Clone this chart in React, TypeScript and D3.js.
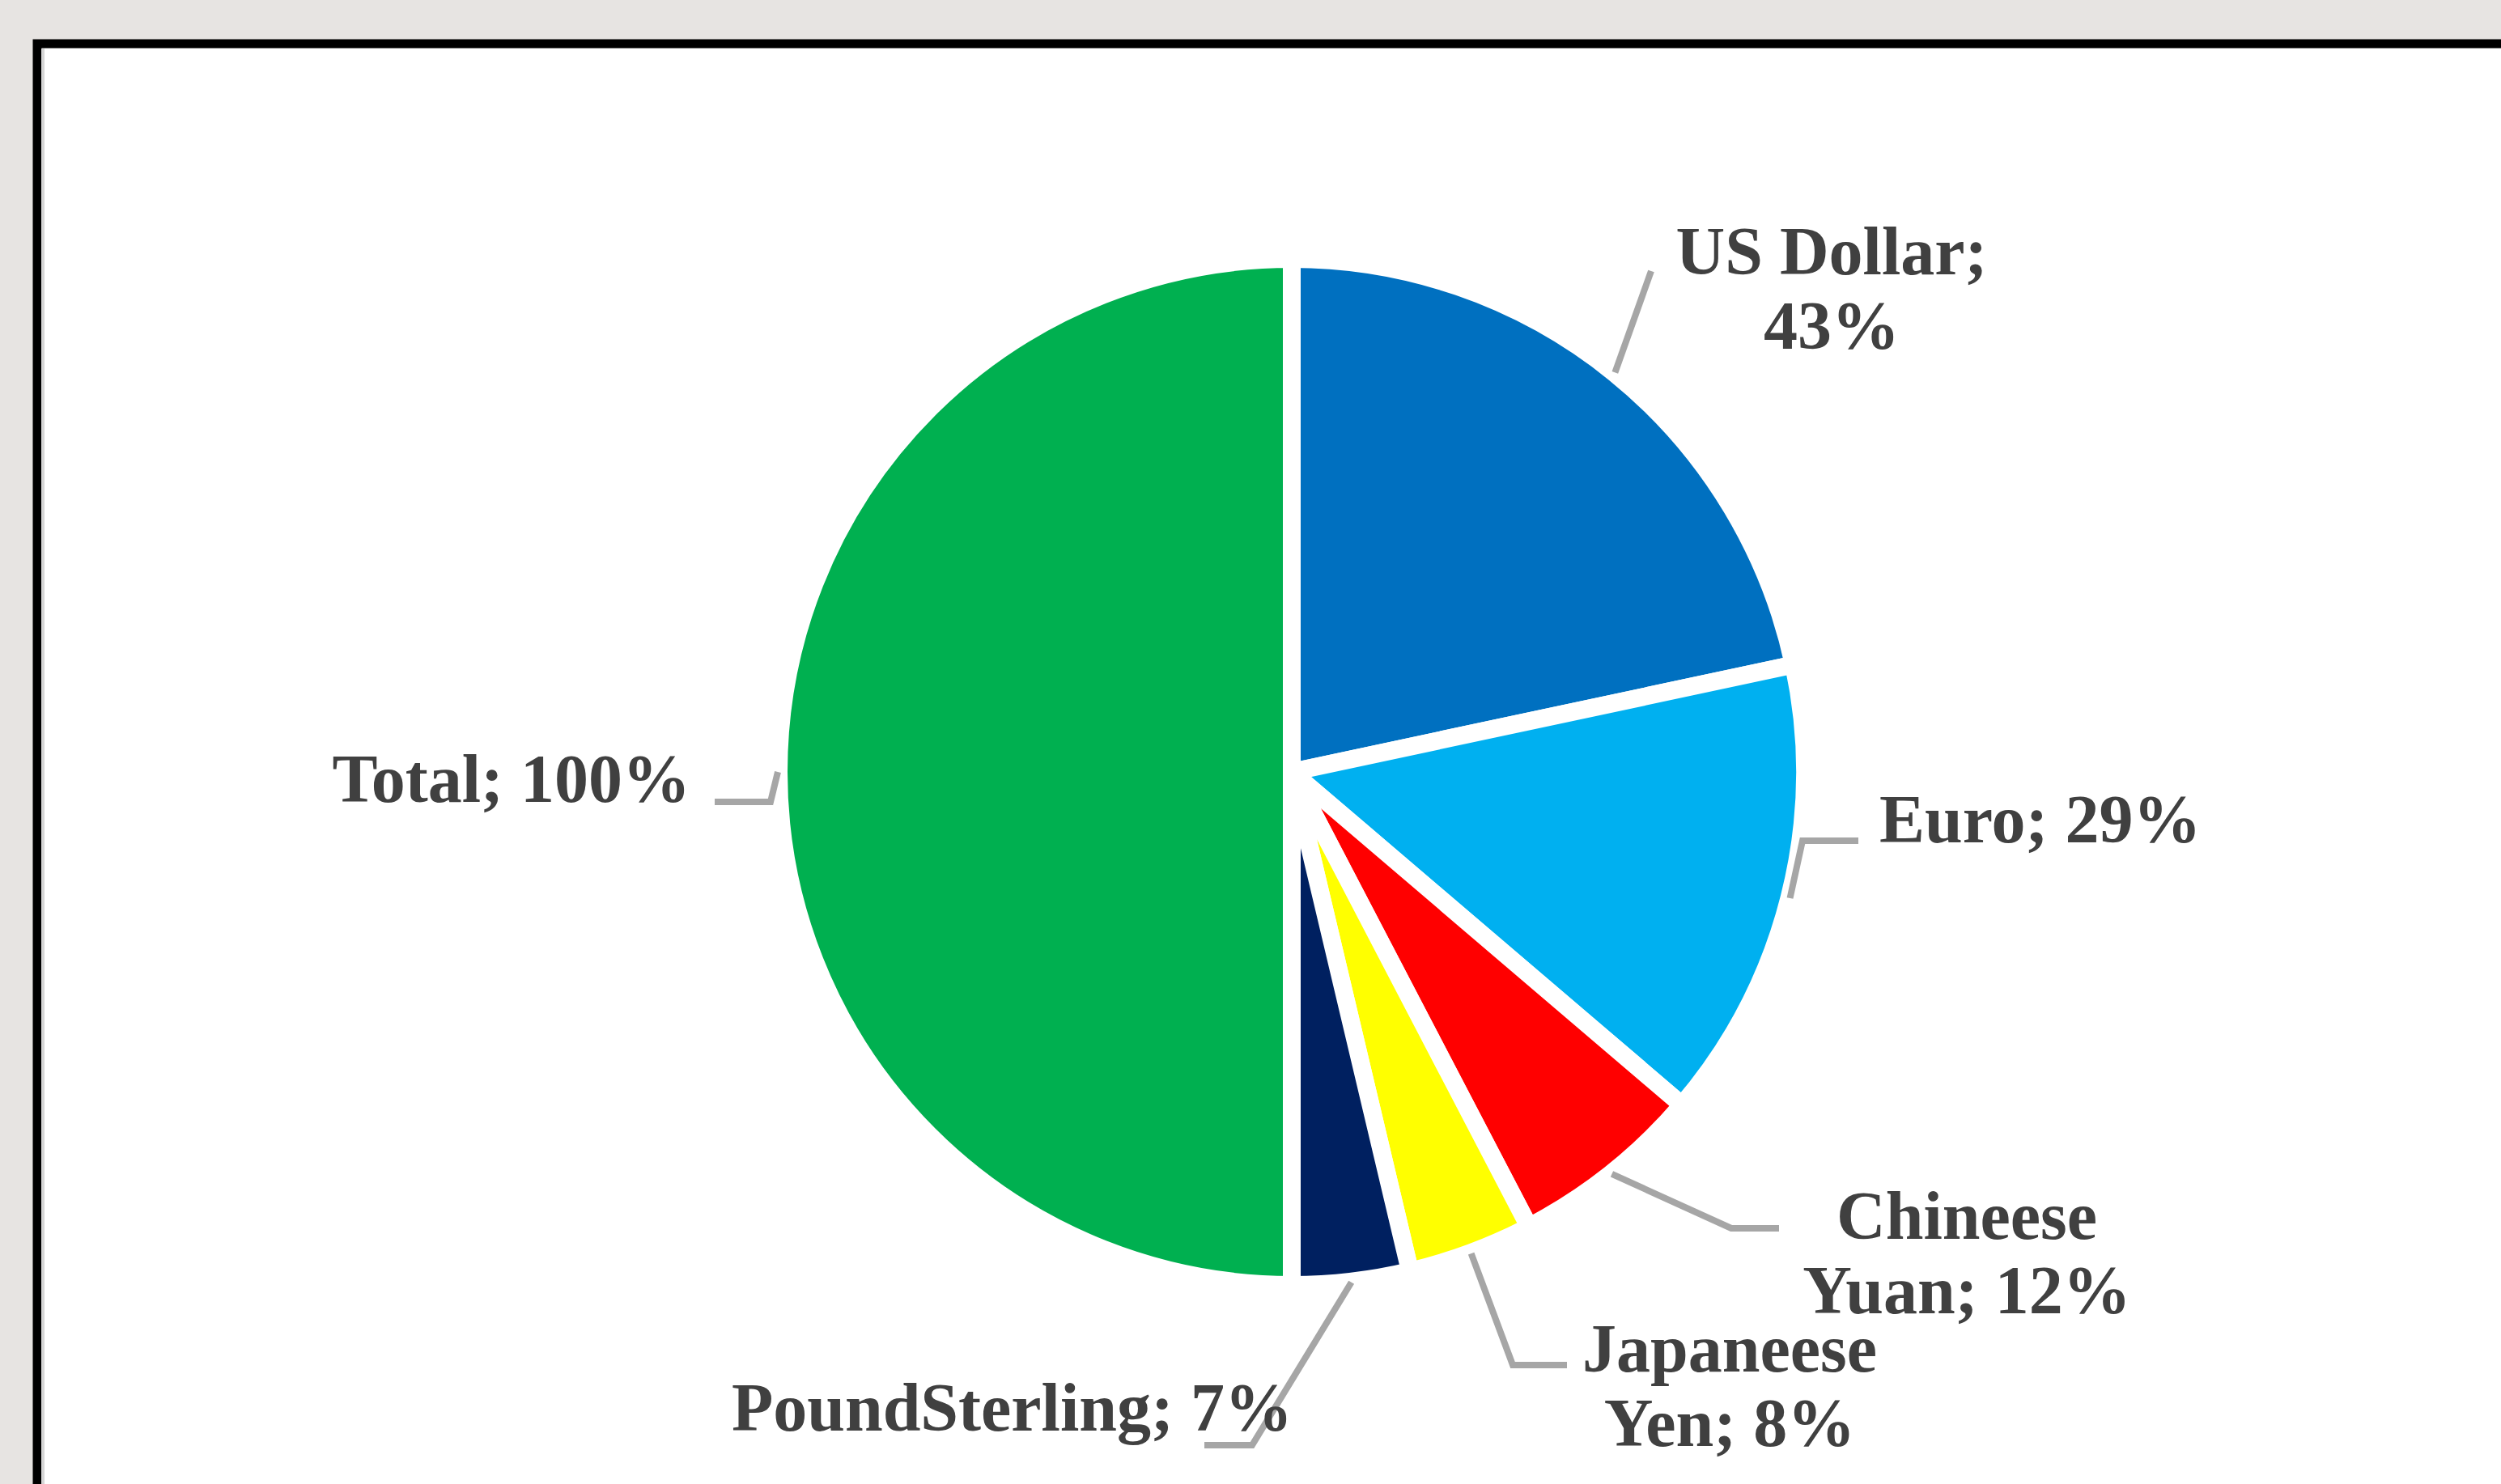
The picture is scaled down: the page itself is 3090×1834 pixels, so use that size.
import React, { useEffect, useRef } from "react";
import * as d3 from "d3";

// currency shares (labels show the rounded values); Total is the other half of the pie
const categories = ["US Dollar", "Euro", "Chineese Yuan", "Japaneese Yen", "PoundSterling", "Total"];
const values = [43.3, 29.2, 12.2, 7.9, 7.4, 100];
const labelLines = [
  ["US Dollar;", "43%"],
  ["Euro; 29%"],
  ["Chineese", "Yuan; 12%"],
  ["Japaneese", "Yen; 8%"],
  ["PoundSterling; 7%"],
  ["Total; 100%"],
];
const colors = ["#0070C0", "#00B0F0", "#FF0000", "#FFFF00", "#002060", "#00B050"];

// label placement (offsets from pie centre): elbow, end of leader, text anchor
const labelLayout = [
  { elbow: null, end: [444, -619], tx: 667, ty: -615, anchor: "middle" },
  { elbow: [631, 85], end: [700, 85], tx: 726, ty: 87, anchor: "start" },
  { elbow: [543, 564], end: [602, 564], tx: 834, ty: 577, anchor: "middle" },
  { elbow: [273, 733], end: [340, 733], tx: 541, ty: 741, anchor: "middle" },
  { elbow: [-49, 832], end: [-108, 832], tx: 1, ty: 814, anchor: "end" },
  { elbow: [-644, 37], end: [-713, 37], tx: -743, ty: 37, anchor: "end" },
];

const W = 3090;
const H = 1834;

const App: React.FC = () => {
  const ref = useRef<SVGSVGElement>(null);

  useEffect(() => {
    const svg = d3.select(ref.current);
    svg.selectAll("*").remove();

    svg.append("rect").attr("width", W).attr("height", H).attr("fill", "#e7e4e2");
    svg.append("rect")
      .attr("x", 46).attr("y", 54)
      .attr("width", W).attr("height", H)
      .attr("fill", "#ffffff")
      .attr("stroke", "#000")
      .attr("stroke-width", 11);
    svg.append("line")
      .attr("x1", 53).attr("x2", 53).attr("y1", 60).attr("y2", H)
      .attr("stroke", "#d6d6d6").attr("stroke-width", 4);

    const cx = 1596;
    const cy = 954;
    const radius = 634;

    const g = svg.append("g").attr("transform", `translate(${cx},${cy})`);

    const pie = d3.pie<number>().sort(null).value((d) => d);
    const arcs = pie(values);

    const arc = d3.arc<d3.PieArcDatum<number>>().innerRadius(0).outerRadius(radius);
    const edge = d3.arc<d3.PieArcDatum<number>>().innerRadius(radius + 1).outerRadius(radius + 1);

    g.selectAll("path.slice")
      .data(arcs)
      .enter()
      .append("path")
      .attr("class", "slice")
      .attr("d", (d) => arc(d) || "")
      .attr("fill", (d, i) => colors[i])
      .attr("stroke", "#fff")
      .attr("stroke-width", 22)
      .attr("stroke-linejoin", "miter");

    const line = d3.line();
    arcs.forEach((d, i) => {
      const lay = labelLayout[i];
      const start = edge.centroid(d) as [number, number];
      const pts: [number, number][] = [start];
      if (lay.elbow) pts.push(lay.elbow as [number, number]);
      pts.push(lay.end as [number, number]);
      g.append("path")
        .attr("d", line(pts) || "")
        .attr("fill", "none")
        .attr("stroke", "#A6A6A6")
        .attr("stroke-width", 8);

      const t = g.append("text")
        .attr("x", lay.tx)
        .attr("y", lay.ty)
        .attr("text-anchor", lay.anchor)
        .attr("font-family", "'Liberation Serif', 'Times New Roman', serif")
        .attr("font-weight", "bold")
        .attr("font-size", 84)
        .attr("fill", "#404040");
      labelLines[i].forEach((s, k) => {
        t.append("tspan").attr("x", lay.tx).attr("dy", k === 0 ? 0 : 92).text(s);
      });
    });
  }, []);

  return (
    <svg
      ref={ref}
      width={W}
      height={H}
      style={{ position: "absolute", left: 0, top: 0, display: "block" }}
    />
  );
};

export default App;
